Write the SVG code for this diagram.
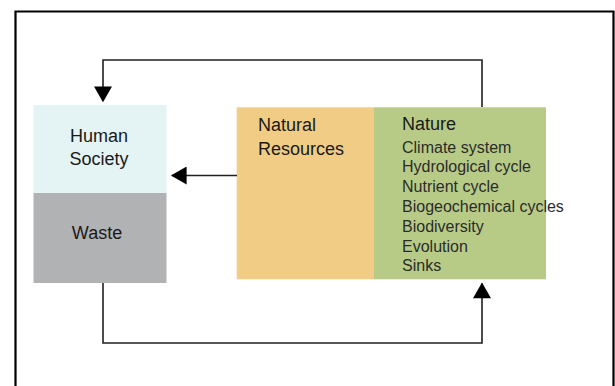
<svg xmlns="http://www.w3.org/2000/svg" width="615" height="386" viewBox="0 0 615 386">
<style>
text{font-family:"Liberation Sans",Arial,sans-serif;fill:#1a1a1a}
.big{font-size:18px}
.item{font-size:16px;fill:#2b2b2b}
.conn{fill:none;stroke:#231f20;stroke-width:1.6}
</style>
<defs>
<marker id="ah" markerUnits="userSpaceOnUse" markerWidth="18" markerHeight="18" viewBox="0 0 14 16" refX="13" refY="8" orient="auto">
<path d="M0,0 L14,8 L0,16 Z" fill="#000"/>
</marker>
</defs>
<rect x="0" y="0" width="615" height="386" fill="#fff"/>
<path d="M15.5,400 V11.5 H613.5 V400" fill="none" stroke="#000" stroke-width="2.2"/>
<g id="human-society">
<rect x="33.5" y="105" width="133" height="88" fill="#e4f3f4"/>
<text class="big" x="99" y="142" text-anchor="middle">Human</text>
<text class="big" x="99" y="165" text-anchor="middle">Society</text>
</g>
<g id="waste">
<rect x="33.5" y="193" width="133" height="90" fill="#b1b2b4"/>
<text class="big" x="97" y="238.5" text-anchor="middle">Waste</text>
</g>
<g id="natural-resources">
<rect x="236.7" y="107.3" width="137.5" height="172" fill="#f1cc85"/>
<text class="big" x="258" y="131">Natural</text>
<text class="big" x="258" y="155">Resources</text>
</g>
<g id="nature">
<rect x="374" y="107.3" width="172" height="172" fill="#b7cb86"/>
<text class="big" x="402" y="129.5">Nature</text>
<text class="item" x="402" y="152.5">Climate system</text>
<text class="item" x="402" y="172.3">Hydrological cycle</text>
<text class="item" x="402" y="192.1">Nutrient cycle</text>
<text class="item" x="402" y="211.9">Biogeochemical cycles</text>
<text class="item" x="402" y="231.7">Biodiversity</text>
<text class="item" x="402" y="251.5">Evolution</text>
<text class="item" x="402" y="271.3">Sinks</text>
</g>
<g id="connectors">
<path class="conn" d="M482,107 V60 H103 V101" marker-end="url(#ah)"/>
<path class="conn" d="M237,175.5 H172" marker-end="url(#ah)"/>
<path class="conn" d="M103,283 V343 H482 V283.5" marker-end="url(#ah)"/>
</g>
</svg>
